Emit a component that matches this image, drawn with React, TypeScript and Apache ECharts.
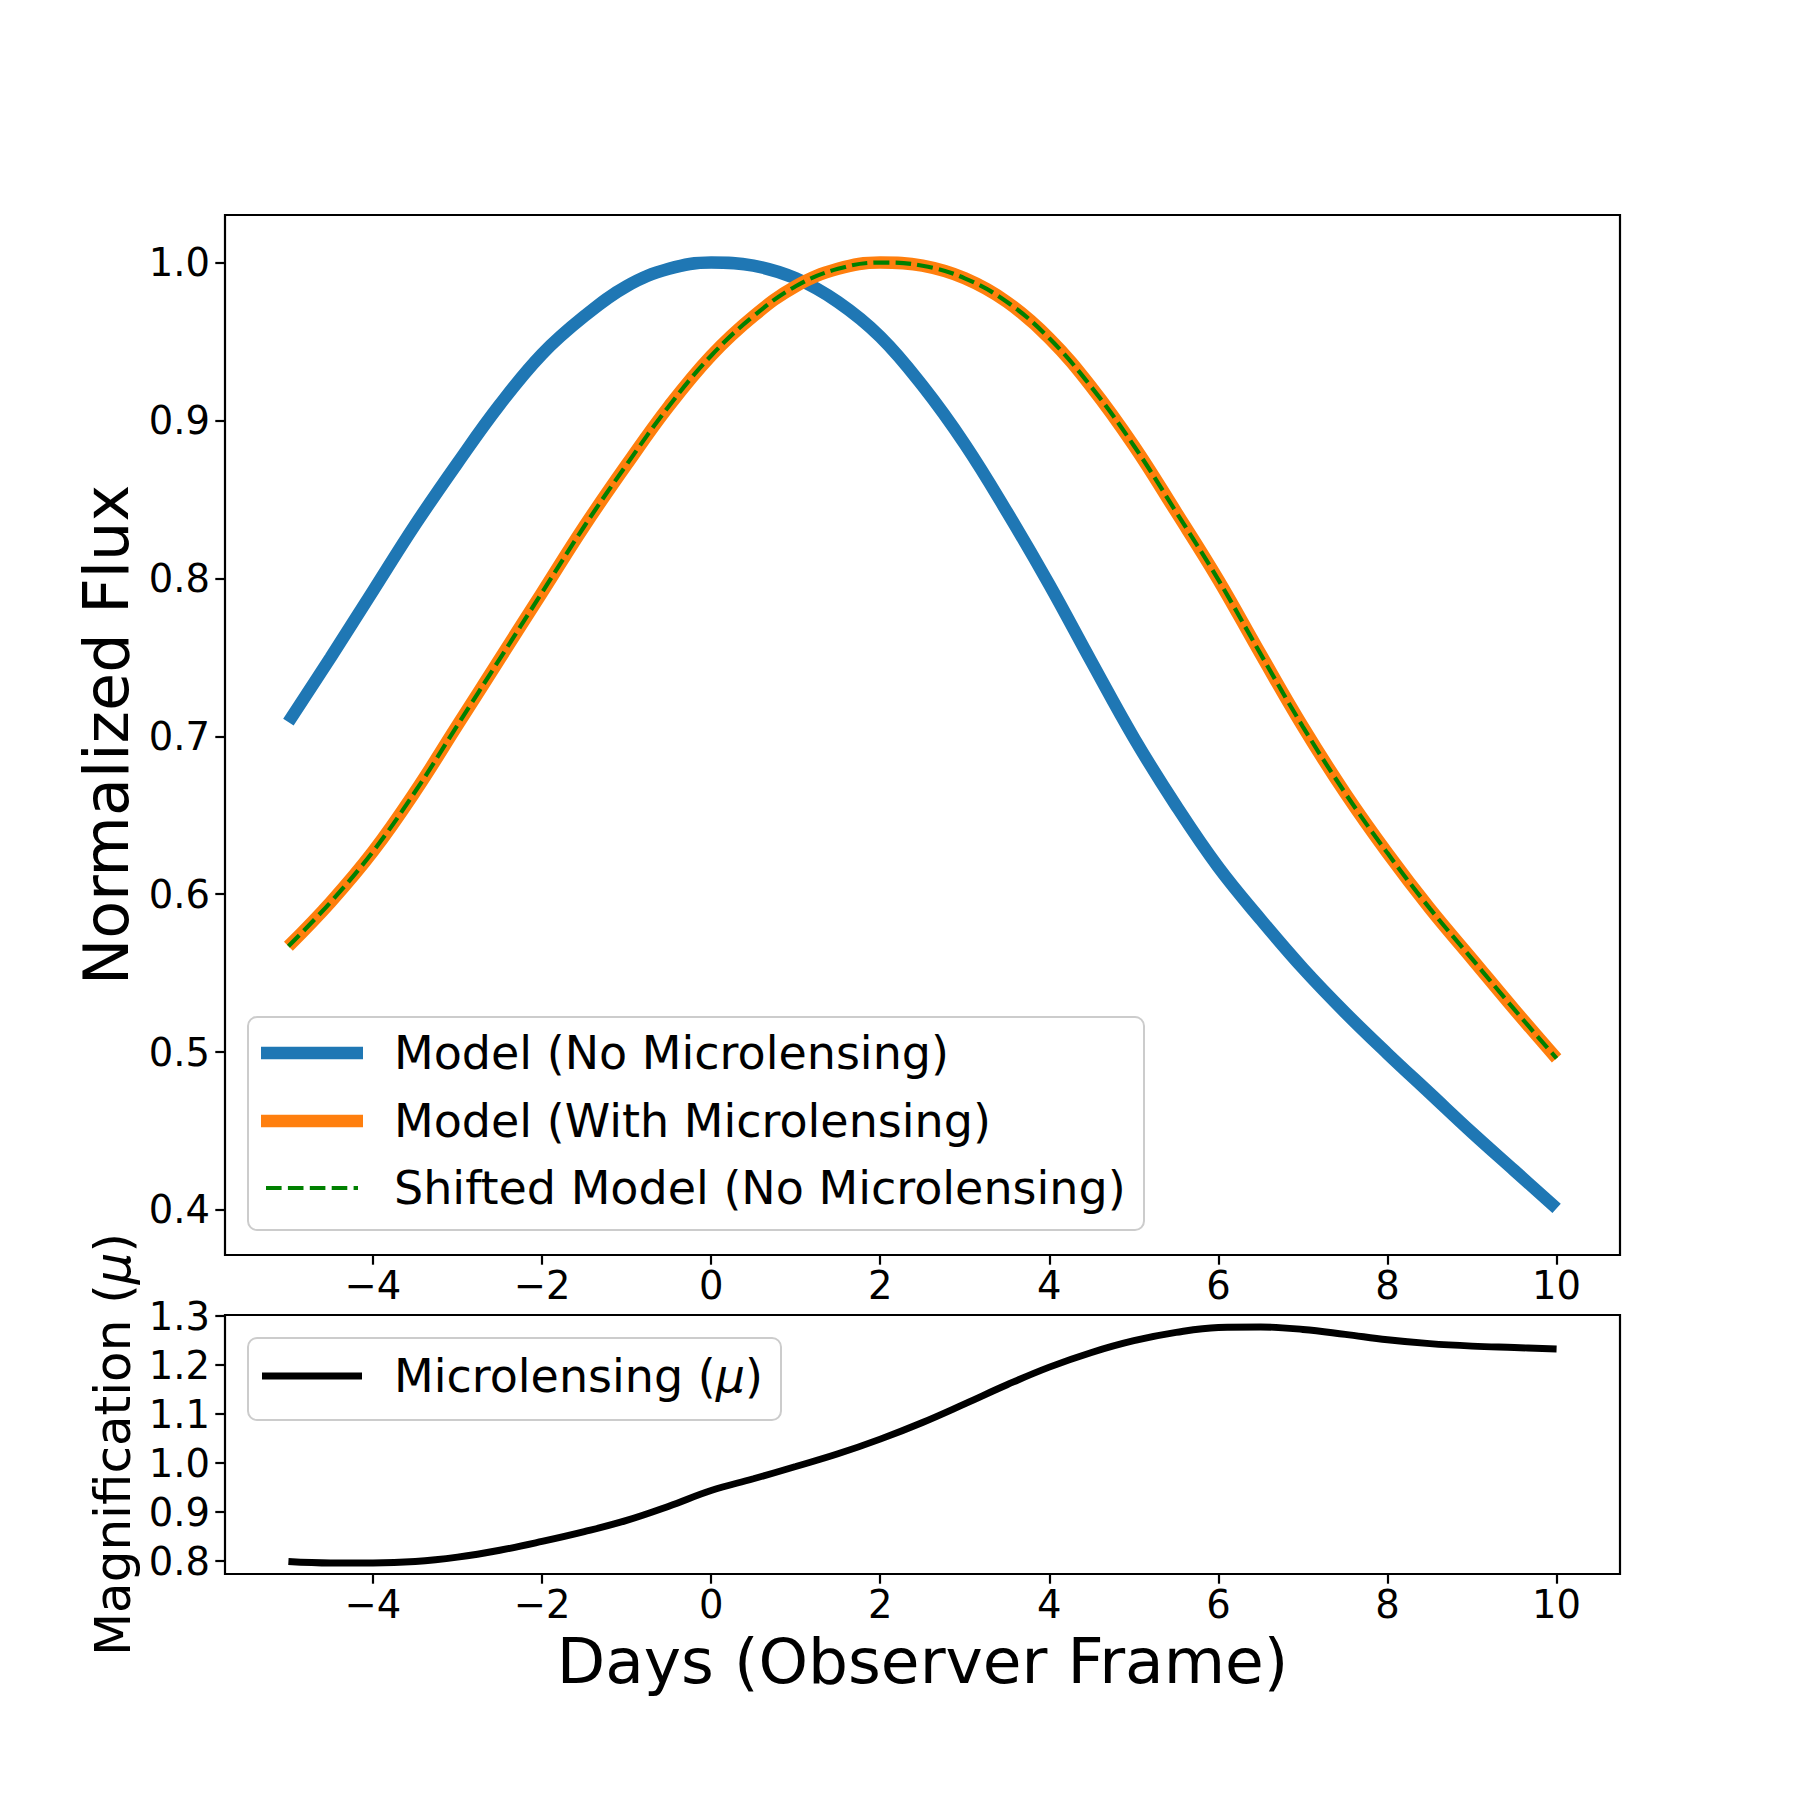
import React, { useEffect, useRef } from "react";
import * as echarts from "echarts";

// ---------- data ----------
const days = [-5, -4.5, -4, -3.5, -3, -2.5, -2, -1.5, -1, -0.5, 0, 0.5, 1, 1.5, 2, 2.5, 3, 3.5, 4, 4.5, 5, 5.5, 6, 6.5, 7, 7.5, 8, 8.5, 9, 9.5, 10];

const modelNoMicrolensing = [0.709, 0.75, 0.792, 0.834, 0.873, 0.91, 0.942, 0.966, 0.985, 0.996, 1.0, 0.998, 0.99, 0.975, 0.953, 0.922, 0.885, 0.842, 0.796, 0.747, 0.699, 0.656, 0.617, 0.584, 0.553, 0.525, 0.499, 0.474, 0.449, 0.425, 0.401];

const modelWithMicrolensing = [0.567, 0.595, 0.627, 0.665, 0.707, 0.749, 0.791, 0.833, 0.872, 0.909, 0.941, 0.966, 0.985, 0.996, 1.0, 0.998, 0.99, 0.975, 0.952, 0.921, 0.884, 0.842, 0.799, 0.752, 0.706, 0.664, 0.626, 0.591, 0.559, 0.527, 0.496];

const shiftedModelNoMicrolensing = [0.567, 0.595, 0.627, 0.665, 0.707, 0.749, 0.791, 0.833, 0.872, 0.909, 0.941, 0.966, 0.985, 0.996, 1.0, 0.998, 0.99, 0.975, 0.952, 0.921, 0.884, 0.842, 0.799, 0.752, 0.706, 0.664, 0.626, 0.591, 0.559, 0.527, 0.496];

const magnification = [0.799, 0.796, 0.796, 0.799, 0.808, 0.822, 0.84, 0.86, 0.883, 0.912, 0.944, 0.968, 0.993, 1.019, 1.049, 1.083, 1.121, 1.16, 1.196, 1.226, 1.25, 1.267, 1.277, 1.278, 1.273, 1.263, 1.252, 1.244, 1.239, 1.236, 1.233];

const xTicks = [-4, -2, 0, 2, 4, 6, 8, 10];
const fluxTicks = [0.4, 0.5, 0.6, 0.7, 0.8, 0.9, 1.0];
const magTicks = [0.8, 0.9, 1.0, 1.1, 1.2, 1.3];

const legendTop = [
  "Model (No Microlensing)",
  "Model (With Microlensing)",
  "Shifted Model (No Microlensing)",
];
const legendBottom = "Microlensing ({i|μ})";

// ---------- styling ----------
const FONT = "DejaVu Sans";
const BLUE = "#1f77b4";
const ORANGE = "#ff7f0e";
const GREEN = "#008000";
const TICK_FS = 38.5;
const LEG_FS = 46;

const pair = (xs: number[], ys: number[]) => xs.map((x, i) => [x, ys[i]]);
const fmtX = (v: number) => (v < 0 ? "\u2212" + Math.abs(v) : String(v));
const fmtY = (v: number) => v.toFixed(1);

function xAxis(gridIndex: number, name?: string) {
  return {
    type: "value",
    gridIndex,
    min: -5.75,
    max: 10.75,
    axisLine: { show: false, onZero: false },
    axisTick: {
      show: true,
      length: 9.7,
      customValues: xTicks,
      lineStyle: { color: "#000", width: 2.2 },
    },
    axisLabel: {
      customValues: xTicks,
      formatter: fmtX,
      fontSize: TICK_FS,
      fontFamily: FONT,
      color: "#000",
      lineHeight: 40,
      margin: 10,
    },
    splitLine: { show: false },
    name: name || "",
    nameLocation: "middle",
    nameGap: 87,
    nameTextStyle: {
      fontSize: 63,
      fontFamily: FONT,
      color: "#000",
      lineHeight: 64,
      verticalAlign: "middle",
    },
  };
}

function yAxis(gridIndex: number, min: number, max: number, ticks: number[], name: string, fs: number, gap: number) {
  return {
    type: "value",
    gridIndex,
    min,
    max,
    axisLine: { show: false, onZero: false },
    axisTick: {
      show: true,
      length: 9.7,
      customValues: ticks,
      lineStyle: { color: "#000", width: 2.2 },
    },
    axisLabel: {
      customValues: ticks,
      formatter: fmtY,
      fontSize: TICK_FS,
      fontFamily: FONT,
      color: "#000",
      margin: 15,
    },
    splitLine: { show: false },
    name,
    nameLocation: "middle",
    nameRotate: 90,
    nameGap: gap,
    nameTextStyle: {
      fontSize: fs,
      fontFamily: FONT,
      color: "#000",
      rich: {
        i: { fontSize: fs, fontFamily: FONT, fontStyle: "italic", color: "#000" },
      },
    },
  };
}

const legendRows = [1053, 1121, 1188];
const TEXT_X = 394;

const graphic: any[] = [
  {
    type: "rect",
    z: 100,
    shape: { x: 248, y: 1017, width: 896, height: 213, r: 9 },
    style: { fill: "rgba(255,255,255,0.8)", stroke: "#cccccc", lineWidth: 2 },
  },
  {
    type: "line",
    z: 101,
    shape: { x1: 261, y1: legendRows[0], x2: 363, y2: legendRows[0] },
    style: { stroke: BLUE, lineWidth: 12.5 },
  },
  {
    type: "line",
    z: 101,
    shape: { x1: 261, y1: legendRows[1], x2: 363, y2: legendRows[1] },
    style: { stroke: ORANGE, lineWidth: 12.5 },
  },
  {
    type: "line",
    z: 101,
    shape: { x1: 266, y1: legendRows[2], x2: 358, y2: legendRows[2] },
    style: { stroke: GREEN, lineWidth: 4.2, lineDash: [15.6, 6.3] },
  },
  ...legendTop.map((t, i) => ({
    type: "text",
    z: 101,
    x: TEXT_X,
    y: legendRows[i],
    style: {
      text: t,
      fontSize: LEG_FS,
      fontFamily: FONT,
      fill: "#000",
      textAlign: "left",
      textVerticalAlign: "middle",
    },
  })),
  {
    type: "rect",
    z: 100,
    shape: { x: 248, y: 1338, width: 533, height: 82, r: 9 },
    style: { fill: "rgba(255,255,255,0.8)", stroke: "#cccccc", lineWidth: 2 },
  },
  {
    type: "line",
    z: 101,
    shape: { x1: 262, y1: 1376, x2: 362, y2: 1376 },
    style: { stroke: "#000", lineWidth: 6.9 },
  },
  {
    type: "text",
    z: 101,
    x: TEXT_X,
    y: 1376,
    style: {
      text: legendBottom,
      fontSize: LEG_FS,
      fontFamily: FONT,
      fill: "#000",
      textAlign: "left",
      textVerticalAlign: "middle",
      rich: {
        i: { fontSize: LEG_FS, fontFamily: FONT, fontStyle: "italic", fill: "#000" },
      },
    },
  },
];

const option: any = {
  animation: false,
  backgroundColor: "#ffffff",
  grid: [
    { left: 225, top: 215, width: 1395, height: 1040, show: true, borderColor: "#000", borderWidth: 2.2, backgroundColor: "transparent" },
    { left: 225, top: 1315, width: 1395, height: 259, show: true, borderColor: "#000", borderWidth: 2.2, backgroundColor: "transparent" },
  ],
  xAxis: [xAxis(0), xAxis(1, "Days (Observer Frame)")],
  yAxis: [
    yAxis(0, 0.3715, 1.0301, fluxTicks, "Normalized Flux", 62, 80),
    yAxis(1, 0.7735, 1.3025, magTicks, "Magnification ({i|μ})", 50, 86),
  ],
  series: [
    {
      name: legendTop[0],
      type: "line",
      xAxisIndex: 0,
      yAxisIndex: 0,
      data: pair(days, modelNoMicrolensing),
      showSymbol: false,
      symbol: "none",
      smooth: 0.4,
      lineStyle: { color: BLUE, width: 12.5, cap: "butt" },
      z: 2,
    },
    {
      name: legendTop[1],
      type: "line",
      xAxisIndex: 0,
      yAxisIndex: 0,
      data: pair(days, modelWithMicrolensing),
      showSymbol: false,
      symbol: "none",
      smooth: 0.4,
      lineStyle: { color: ORANGE, width: 12.5, cap: "butt" },
      z: 3,
    },
    {
      name: legendTop[2],
      type: "line",
      xAxisIndex: 0,
      yAxisIndex: 0,
      data: pair(days, shiftedModelNoMicrolensing),
      showSymbol: false,
      symbol: "none",
      smooth: 0.4,
      lineStyle: { color: GREEN, width: 4.2, type: [15.6, 6.3] },
      z: 4,
    },
    {
      name: "Microlensing (μ)",
      type: "line",
      xAxisIndex: 1,
      yAxisIndex: 1,
      data: pair(days, magnification),
      showSymbol: false,
      symbol: "none",
      smooth: 0.4,
      lineStyle: { color: "#000", width: 6.9 },
      z: 2,
    },
  ],
  graphic,
};

export default function App() {
  const ref = useRef<HTMLDivElement>(null);
  useEffect(() => {
    document.body.style.margin = "0";
    const chart = echarts.init(ref.current!, null, { renderer: "svg" });
    chart.setOption(option);
    return () => chart.dispose();
  }, []);
  return <div ref={ref} style={{ width: 1800, height: 1800, background: "#fff" }} />;
}
